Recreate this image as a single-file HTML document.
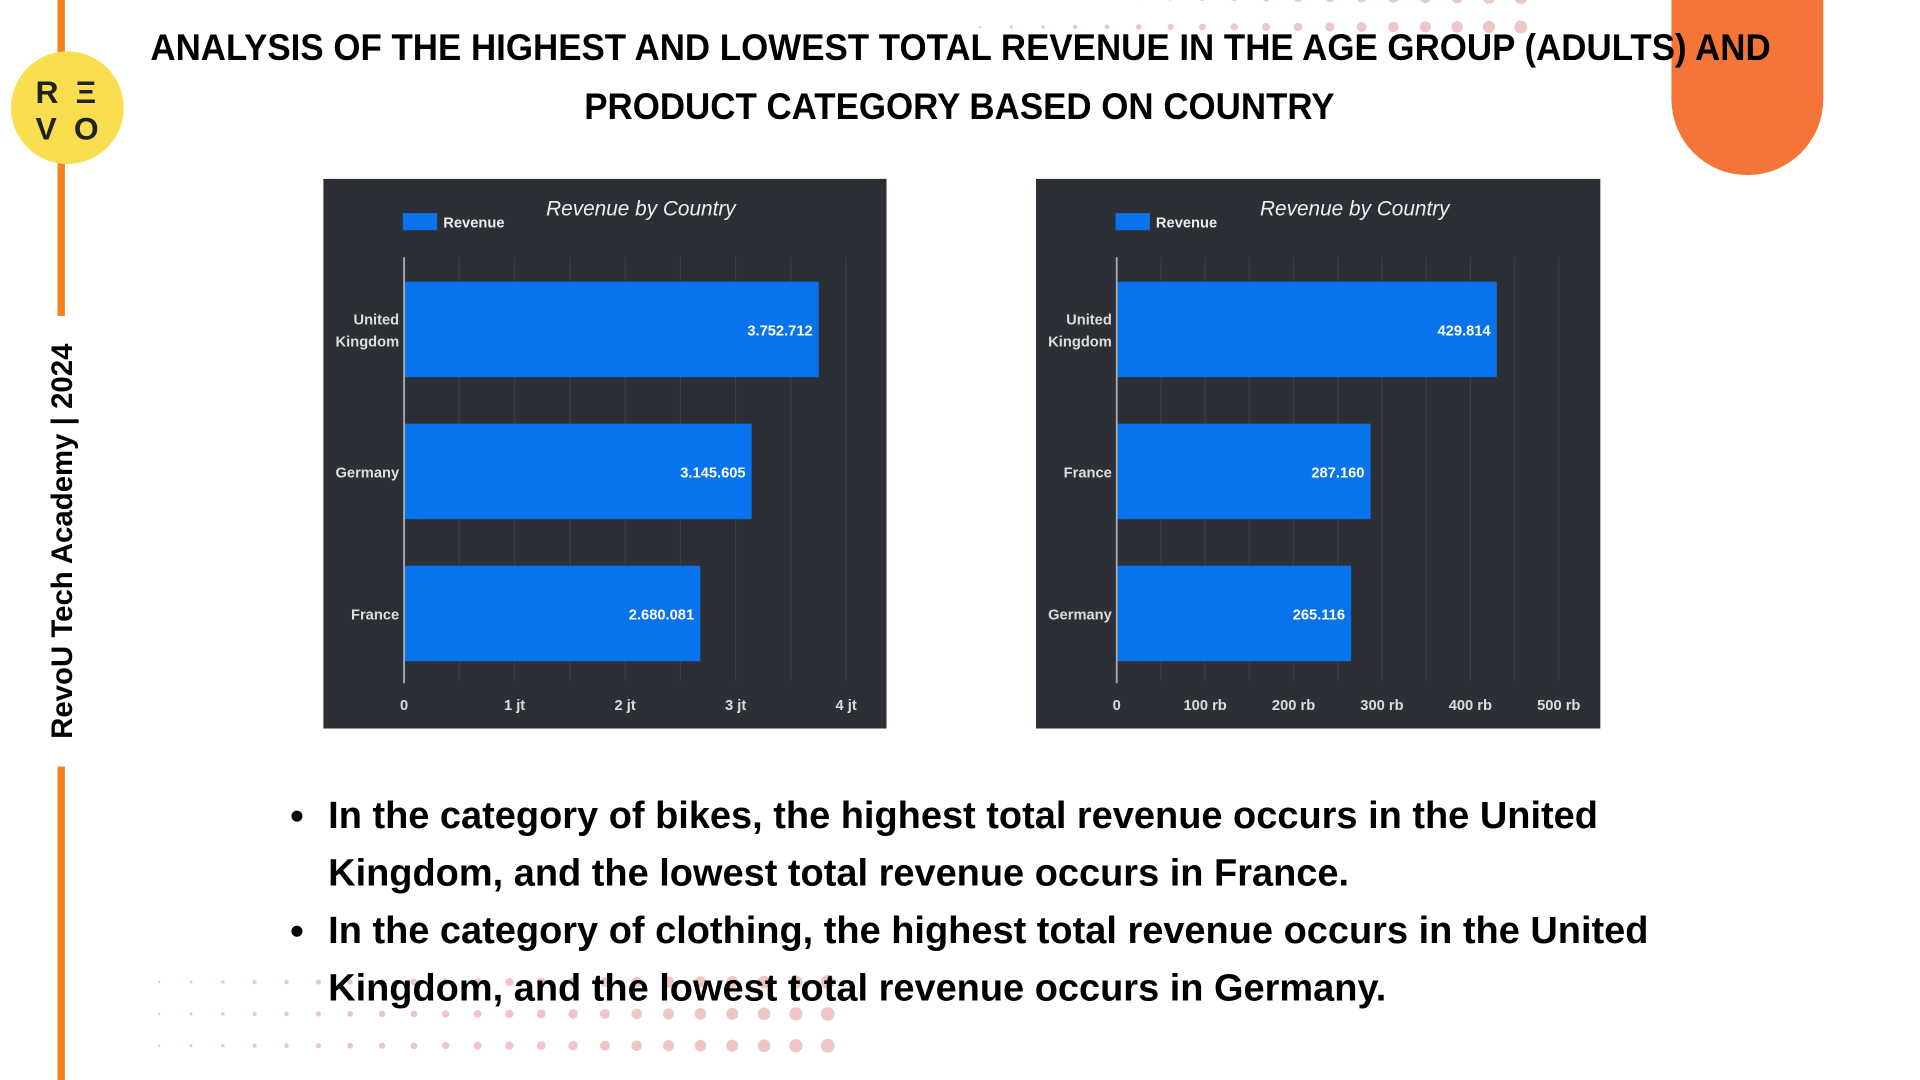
<!DOCTYPE html>
<html><head><meta charset="utf-8"><style>
html,body{margin:0;padding:0;width:1920px;height:1080px;overflow:hidden;background:#fff}
#stage{position:absolute;left:0;top:0;width:1568px;height:882px;transform:scale(1.22449);transform-origin:0 0;font-family:"Liberation Sans",sans-serif}
.abs{position:absolute}
.title{left:0;width:1568px;text-align:center;font-weight:bold;font-size:30px;color:#000;line-height:48px;top:16px;white-space:nowrap}
.title span{display:inline-block;transform:scaleX(0.95);transform-origin:50% 50%}
.bul{left:238px;width:1150px;font-weight:bold;font-size:31px;line-height:47px;color:#000;top:642px}
.bul div{position:relative;padding-left:30px}
.bul div:before{content:"";position:absolute;left:0;top:20px;width:9px;height:9px;border-radius:50%;background:#000}
</style></head><body>
<div id="stage">
<svg class="abs" style="left:0;top:0" width="1568" height="882">
<g fill="#e8b4b0" opacity="0.75" id="dots"></g>
</svg>
<div class="abs" style="left:47px;top:0;width:6px;height:258px;background:#f5821f"></div>
<div class="abs" style="left:47px;top:626px;width:6px;height:256px;background:#f5821f"></div>
<div class="abs" style="left:-126px;top:427px;width:356px;text-align:center;transform:rotate(-90deg);font-weight:bold;font-size:24px;color:#000;line-height:30px;white-space:nowrap">RevoU Tech Academy | 2024</div>
<div class="abs" style="left:9px;top:42px;width:92px;height:92px;border-radius:50%;background:#f9de4f">
<div class="abs" style="left:20px;top:18px;font-weight:bold;font-size:26px;line-height:30px;letter-spacing:14px;color:#222">RΞ<br>VO</div></div>
<div class="abs" style="left:1365px;top:-10px;width:124px;height:153px;background:#f47537;border-radius:0 0 62px 62px"></div>
<div class="abs title"><span>ANALYSIS OF THE HIGHEST AND LOWEST TOTAL REVENUE IN THE AGE GROUP (ADULTS) AND</span><br><span>PRODUCT CATEGORY BASED ON COUNTRY</span></div>

<svg class="abs" id="c1" style="left:264px;top:146px" width="460" height="449"></svg>
<svg class="abs" id="c2" style="left:846px;top:146px" width="461" height="449"></svg>

<div class="abs bul">
<div>In the category of bikes, the highest total revenue occurs in the United Kingdom, and the lowest total revenue occurs in France.</div>
<div>In the category of clothing, the highest total revenue occurs in the United Kingdom, and the lowest total revenue occurs in Germany.</div>
</div>
</div>
<script>
const cats1=["United Kingdom","Germany","France"];
const vals1=[3752712,3145605,2680081];
const labels1=["3.752.712","3.145.605","2.680.081"];
const ticks1=[0,1000000,2000000,3000000,4000000];
const tickLabels1=["0","1 jt","2 jt","3 jt","4 jt"];
const cats2=["United Kingdom","France","Germany"];
const vals2=[429814,287160,265116];
const labels2=["429.814","287.160","265.116"];
const ticks2=[0,100000,200000,300000,400000,500000];
const tickLabels2=["0","100 rb","200 rb","300 rb","400 rb","500 rb"];
const NS="http://www.w3.org/2000/svg";
function mk(p,t,a){const e=document.createElementNS(NS,t);for(const k in a)e.setAttribute(k,a[k]);p.appendChild(e);return e;}
function draw(svg,cats,vals,labels,ticks,tl,max,x1,legX,titleX){
  const x0=66;const W=svg.getAttribute('width');
  const sx=v=>x0+v/max*(x1-x0);
  mk(svg,'rect',{x:0,y:0,width:W,height:449,fill:'#2d2f37'});
  const n=(ticks.length-1)*2;
  for(let i=1;i<=n;i++){const g=mk(svg,'line',{x1:sx(max*i/n),x2:sx(max*i/n),y1:64,y2:410,stroke:'#3b3e47','stroke-width':1});
    }
  const bw=78,step=116,y0=84;
  cats.forEach((c,i)=>{
    const y=y0+i*step;
    const r=mk(svg,'rect',{x:x0,y:y,width:sx(vals[i])-x0,height:bw,fill:'#0873ec'});
    
    
    const t=mk(svg,'text',{x:sx(vals[i])-5,y:y+bw/2+5,fill:'#fff','font-size':12,'font-weight':'bold','text-anchor':'end','font-family':'Liberation Sans, sans-serif'});t.textContent=labels[i];
    
    const words=c.split(' ');
    words.forEach((w,j)=>{const l=mk(svg,'text',{x:x0-4,y:y+bw/2+5+(j-(words.length-1)/2)*18,fill:'#ddd','font-size':12,'font-weight':'bold','text-anchor':'end','font-family':'Liberation Sans, sans-serif'});l.textContent=w;
      });
  });
  mk(svg,'line',{x1:x0,x2:x0,y1:64,y2:412,stroke:'#aaa','stroke-width':1.5});
  ticks.forEach((v,i)=>{const t=mk(svg,'text',{x:sx(v),y:434,fill:'#ddd','font-size':12,'font-weight':'bold','text-anchor':'middle','font-family':'Liberation Sans, sans-serif'});t.textContent=tl[i];
    });
  const sw=mk(svg,'rect',{x:legX,y:28,width:28,height:14,fill:'#0873ec'});
  
  const lt=mk(svg,'text',{x:legX+33,y:40,fill:'#eee','font-size':12,'font-weight':'bold','font-family':'Liberation Sans, sans-serif'});lt.textContent='Revenue';
  
  const tt=mk(svg,'text',{x:titleX,y:30,fill:'#eee','font-size':17,'font-style':'italic','font-family':'Liberation Sans, sans-serif'});tt.textContent='Revenue by Country';
  
}
draw(document.getElementById('c1'),cats1,vals1,labels1,ticks1,tickLabels1,4000000,427,65,182);
draw(document.getElementById('c2'),cats2,vals2,labels2,ticks2,tickLabels2,500000,427,65,183);
const dg=document.getElementById('dots');
for(let r=0;r<3;r++)for(let c=0;c<22;c++){mk(dg,'circle',{cx:130+c*26,cy:802+r*26,r:1+c*0.22});}
for(let r=0;r<2;r++)for(let c=0;c<18;c++){mk(dg,'circle',{cx:800+c*26,cy:-2+r*24,r:1+c*0.25});}
</script>
</body></html>
